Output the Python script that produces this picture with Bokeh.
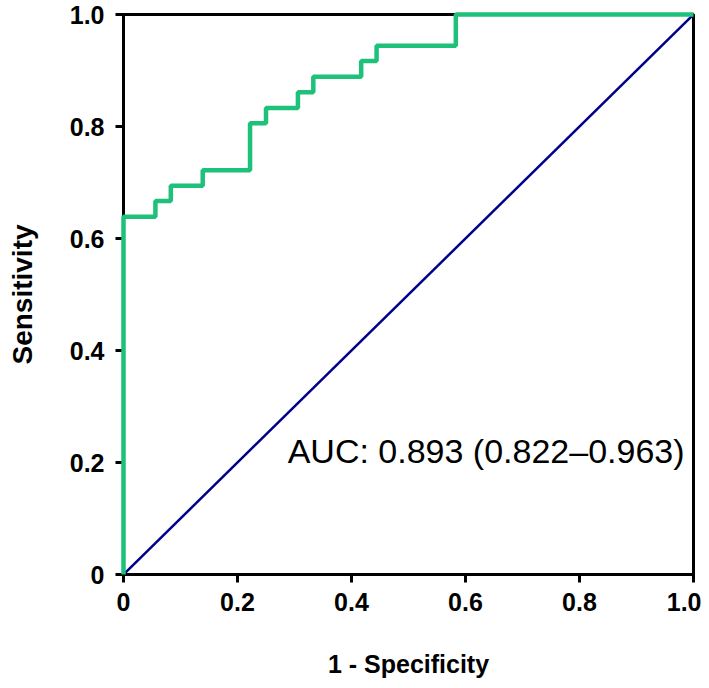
from bokeh.plotting import figure
from bokeh.models import Range1d, Label, FixedTicker
from bokeh.embed import file_html
from bokeh.resources import INLINE

# ROC curve data (1 - specificity vs sensitivity)
fpr = [0, 0, 0.056, 0.083, 0.139, 0.222, 0.25, 0.306, 0.333, 0.417, 0.444, 0.583, 1.0]
tpr = [0, 0.639, 0.667, 0.694, 0.722, 0.806, 0.833, 0.861, 0.889, 0.917, 0.944, 1.0, 1.0]
ref_x = [0, 1]
ref_y = [0, 1]
ticks = [0, 0.2, 0.4, 0.6, 0.8, 1.0]
tick_labels = {0: "0", 0.2: "0.2", 0.4: "0.4", 0.6: "0.6", 0.8: "0.8", 1.0: "1.0"}
auc_text = "AUC: 0.893 (0.822\u20130.963)"

p = figure(width=701, height=680, output_backend="svg", toolbar_location=None,
           x_range=Range1d(0, 1), y_range=Range1d(0, 1),
           min_border_left=123, min_border_right=8, min_border_top=14, min_border_bottom=104)

p.xgrid.visible = False
p.ygrid.visible = False
p.background_fill_color = "white"
p.border_fill_color = "white"
p.outline_line_color = "black"
p.outline_line_width = 3

for ax in (p.xaxis, p.yaxis):
    ax.ticker = FixedTicker(ticks=ticks)
    ax.major_label_overrides = tick_labels
    ax.axis_line_width = 3
    ax.axis_line_color = "black"
    ax.major_tick_line_width = 3
    ax.major_tick_line_color = "black"
    ax.major_tick_out = 8
    ax.major_tick_in = 0
    ax.minor_tick_line_color = None
    ax.major_label_text_font = "Liberation Sans"
    ax.major_label_text_font_style = "bold"
    ax.major_label_text_font_size = "25px"
    ax.major_label_text_color = "black"
    ax.axis_label_text_font = "Liberation Sans"
    ax.axis_label_text_font_style = "bold"
    ax.axis_label_text_color = "black"

p.xaxis.axis_label = "1 - Specificity"
p.xaxis.axis_label_text_font_size = "25px"
p.xaxis.major_label_standoff = 10
p.xaxis.axis_label_standoff = 36

p.yaxis.axis_label = "Sensitivity"
p.yaxis.axis_label_text_font_size = "28px"
p.yaxis.major_label_standoff = 11
p.yaxis.axis_label_standoff = 29

p.line(ref_x, ref_y, line_color="#00008b", line_width=2.5)
p.step(fpr, tpr, mode="after", line_color="#1ec17a", line_width=4.5, level="overlay")

p.add_layout(Label(x=0.288, y=0.22, text=auc_text, text_font="Liberation Sans",
                   text_font_size="34px", text_color="black", text_baseline="alphabetic"))

open("out.html", "w").write(file_html(p, INLINE))
